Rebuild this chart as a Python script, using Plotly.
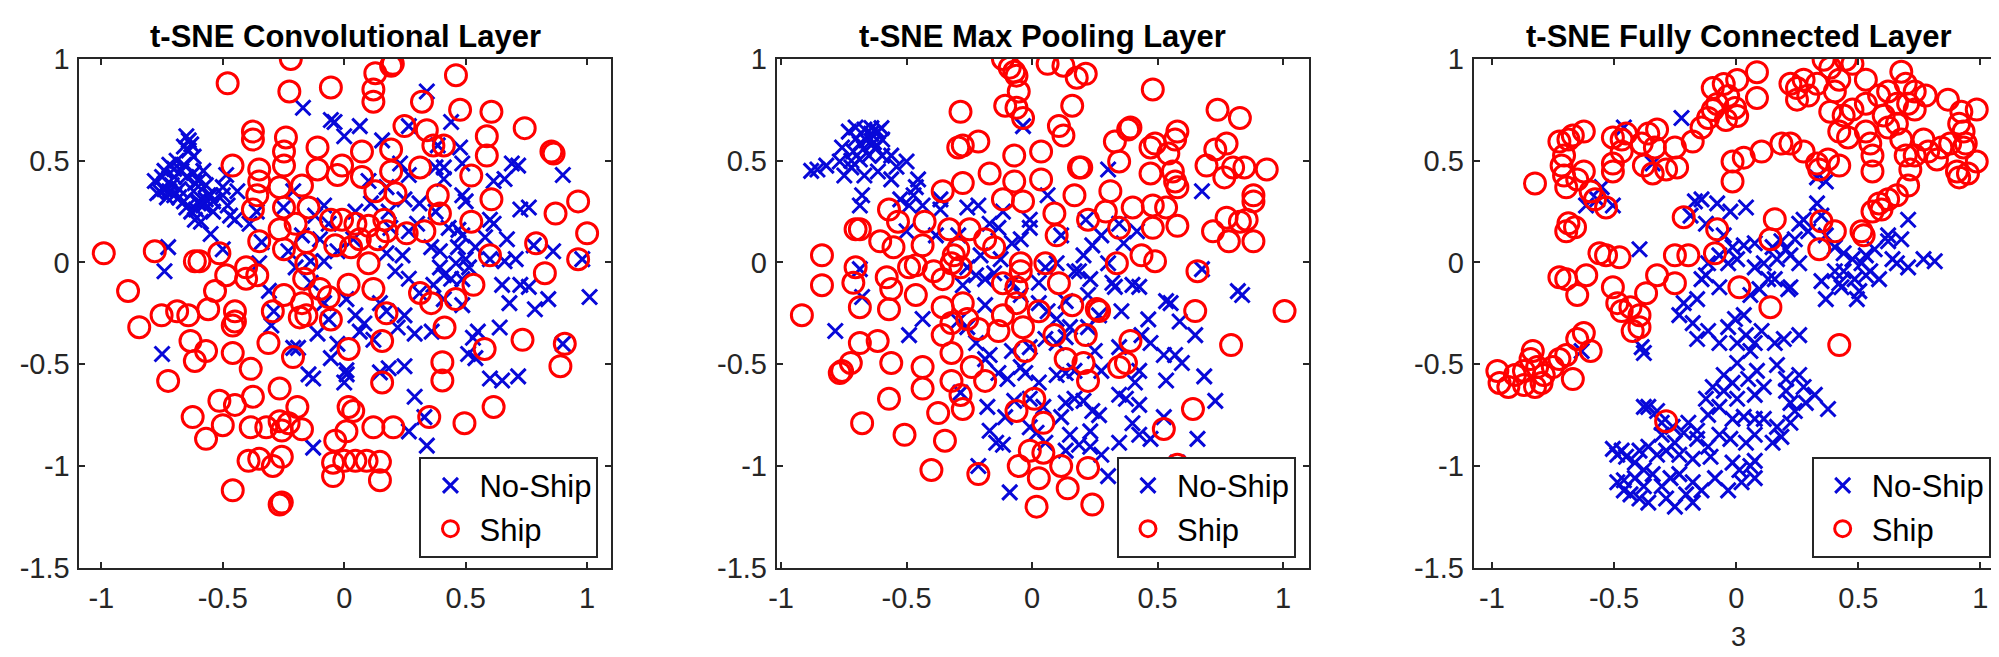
import plotly.graph_objects as go

# t-SNE embeddings, as (x, y) pairs per layer and class
conv_noship = [
    (-0.17, 0.76), (-0.055, 0.70), (-0.04, 0.69), (0.0, 0.62), (0.064, 0.67), (0.156, 0.60),
    (0.34, 0.84), (0.266, 0.67), (0.44, 0.69), (0.477, 0.565), (0.385, 0.575), (0.69, 0.486),
    (0.716, 0.476), (0.90, 0.43), (0.615, 0.40), (0.66, 0.41), (0.266, 0.43), (0.41, 0.41),
    (0.486, 0.33), (0.50, 0.30), (0.725, 0.26), (0.76, 0.27), (0.60, 0.21), (0.615, 0.19),
    (0.43, 0.17), (0.47, 0.16), (0.67, 0.114), (0.58, 0.124), (0.78, 0.084), (0.86, 0.055),
    (0.98, 0.016), (0.60, 0.016), (0.66, 0.006), (0.706, 0.016), (0.50, 0.016), (0.46, -0.004),
    (0.394, -0.024), (0.41, -0.063), (0.486, -0.082), (0.65, -0.11), (0.725, -0.11), (0.76, -0.12),
    (0.84, -0.18), (1.01, -0.17), (0.68, -0.20), (0.785, -0.23), (0.64, -0.32), (0.55, -0.34),
    (0.53, -0.37), (0.51, -0.45), (0.54, -0.47), (0.60, -0.57), (0.65, -0.58), (0.716, -0.56),
    (0.90, -0.40), (0.36, -0.34), (0.29, -0.35), (0.31, -0.15), (0.266, -0.08), (0.21, -0.043),
    (0.24, 0.035), (0.174, 0.045), (0.266, 0.153), (0.30, 0.19), (0.31, 0.29), (0.248, 0.31),
    (0.183, 0.25), (0.19, 0.17), (0.11, 0.29), (0.046, 0.25), (0.037, 0.114), (-0.028, 0.055),
    (-0.083, 0.006), (-0.138, 0.006), (-0.23, 0.055), (-0.20, -0.024), (-0.138, -0.10), (-0.083, -0.20),
    (-0.064, -0.28), (0.009, -0.18), (0.046, -0.26), (0.083, -0.30), (0.064, -0.34), (0.147, -0.20),
    (0.174, -0.24), (0.22, -0.32), (0.248, -0.26), (0.12, -0.38), (-0.11, -0.35), (-0.028, -0.40),
    (-0.055, -0.47), (0.009, -0.53), (0.0, -0.59), (0.01, -0.55), (-0.147, -0.55), (-0.128, -0.57),
    (-0.19, -0.42), (-0.29, -0.24), (-0.30, -0.31), (-0.31, -0.14), (-0.35, -0.004), (-0.34, 0.10),
    (-0.39, 0.19), (-0.36, 0.25), (-0.45, 0.21), (-0.47, 0.23), (-0.486, 0.43), (-0.50, 0.37),
    (-0.44, 0.35), (-0.50, 0.065), (-0.55, 0.14), (-0.725, 0.075), (-0.74, -0.043), (-0.75, -0.45),
    (0.147, -0.54), (0.183, -0.52), (0.248, -0.51), (0.29, -0.66), (0.266, -0.83), (0.34, -0.90),
    (0.33, -0.76), (-0.128, -0.91), (-0.21, -0.42), (-0.58, 0.45), (-0.615, 0.39), (-0.56, 0.33),
    (-0.60, 0.29), (-0.54, 0.25), (-0.615, 0.21), (-0.25, 0.27), (-0.21, 0.35), (-0.12, 0.23),
    (-0.083, 0.28), (-0.064, 0.19), (-0.10, 0.114), (-0.174, 0.133), (0.376, 0.467), (0.41, 0.467),
    (0.486, 0.486), (0.23, 0.486), (0.174, 0.37), (0.10, 0.40), (0.376, 0.25), (0.358, 0.075),
    (0.394, 0.055), (0.468, 0.075), (0.486, 0.133), (0.54, 0.075), (0.514, -0.024), (0.44, -0.08),
    (0.367, -0.11), (0.41, -0.18), (0.486, -0.21),
    (-0.78, 0.40), (-0.76, 0.35), (-0.74, 0.45), (-0.72, 0.48), (-0.70, 0.42), (-0.73, 0.32),
    (-0.70, 0.33), (-0.68, 0.36), (-0.66, 0.48), (-0.65, 0.42), (-0.64, 0.55), (-0.64, 0.60),
    (-0.63, 0.58), (-0.62, 0.52), (-0.68, 0.32), (-0.66, 0.30), (-0.62, 0.35), (-0.60, 0.30),
    (-0.58, 0.28), (-0.61, 0.26), (-0.65, 0.27), (-0.71, 0.38), (-0.75, 0.42), (-0.69, 0.50),
    (-0.67, 0.45), (-0.62, 0.44), (-0.60, 0.40), (-0.57, 0.38), (-0.55, 0.33), (-0.63, 0.25),
    (-0.59, 0.20), (-0.57, 0.31), (-0.54, 0.30), (-0.77, 0.34), (-0.74, 0.36), (-0.50, 0.33),
    (-0.48, 0.28), (-0.65, 0.62), (-0.66, 0.57), (-0.72, 0.35), (-0.70, 0.46),
]
conv_ship = [
    (-0.22, 1.0), (-0.48, 0.88), (-0.226, 0.84), (-0.055, 0.86), (0.12, 0.85), (0.128, 0.93),
    (0.12, 0.79), (0.193, 0.967), (0.20, 0.976), (0.46, 0.92), (0.32, 0.79), (0.477, 0.75),
    (0.606, 0.74), (0.743, 0.66), (0.248, 0.67), (0.34, 0.65), (0.367, 0.575), (0.41, 0.575),
    (0.587, 0.62), (0.587, 0.525), (0.862, 0.535), (0.853, 0.545), (-0.376, 0.643), (-0.376, 0.604),
    (-0.24, 0.614), (-0.248, 0.545), (-0.248, 0.476), (-0.46, 0.476), (-0.35, 0.457), (-0.35, 0.398),
    (-0.358, 0.33), (-0.376, 0.26), (-0.266, 0.37), (-0.174, 0.378), (-0.11, 0.565), (-0.11, 0.457),
    (-0.009, 0.476), (-0.028, 0.43), (0.073, 0.42), (0.193, 0.555), (0.193, 0.447), (0.073, 0.545),
    (0.128, 0.35), (0.211, 0.34), (0.312, 0.467), (0.385, 0.33), (0.394, 0.24), (0.33, 0.153),
    (0.257, 0.143), (0.523, 0.427), (0.606, 0.31), (0.523, 0.20), (0.87, 0.24), (0.963, 0.30),
    (1.0, 0.143), (0.963, 0.016), (0.79, 0.094), (0.826, -0.053), (0.60, 0.035), (0.532, -0.11),
    (0.312, -0.15), (0.358, -0.20), (0.459, -0.18), (0.413, -0.32), (0.734, -0.38), (0.908, -0.40),
    (0.89, -0.51), (0.578, -0.425), (0.404, -0.49), (0.404, -0.58), (0.615, -0.71), (0.495, -0.79),
    (0.35, -0.76), (0.202, -0.81), (0.12, -0.81), (0.147, -0.98), (0.147, -1.07), (0.495, -1.05),
    (0.092, -0.975), (0.046, -0.975), (0.0, -0.975), (-0.046, -0.984), (-0.046, -1.05), (0.009, -0.83),
    (0.018, -0.71), (0.037, -0.73), (-0.037, -0.876), (0.156, -0.59), (0.156, -0.386), (0.174, -0.25),
    (0.12, -0.13), (0.10, -0.004), (0.018, -0.425), (0.018, -0.11), (-0.055, -0.28), (-0.064, -0.17),
    (-0.10, -0.13), (-0.165, -0.08), (-0.156, -0.004), (-0.156, 0.10), (-0.20, 0.19), (-0.266, 0.163),
    (-0.248, 0.27), (-0.147, 0.27), (-0.055, 0.21), (-0.009, 0.21), (-0.037, 0.084), (0.028, 0.075),
    (0.064, 0.114), (0.138, 0.114), (0.174, 0.153), (0.165, 0.21), (0.10, 0.18), (0.046, 0.19),
    (-0.248, 0.065), (-0.35, 0.104), (-0.404, -0.024), (-0.404, -0.08), (-0.358, -0.063), (-0.486, -0.063),
    (-0.514, 0.045), (-0.615, 0.006), (-0.596, 0.006), (-0.78, 0.055), (-0.99, 0.045), (-0.89, -0.14),
    (-0.844, -0.318), (-0.752, -0.26), (-0.688, -0.24), (-0.642, -0.26), (-0.56, -0.23), (-0.532, -0.14),
    (-0.45, -0.24), (-0.45, -0.29), (-0.459, -0.31), (-0.294, -0.24), (-0.248, -0.16), (-0.174, -0.20),
    (-0.156, -0.26), (-0.183, -0.27), (-0.312, -0.396), (-0.459, -0.445), (-0.385, -0.523), (-0.633, -0.386),
    (-0.569, -0.435), (-0.615, -0.484), (-0.725, -0.582), (-0.211, -0.465), (-0.266, -0.62), (-0.376, -0.66),
    (-0.514, -0.68), (-0.45, -0.70), (-0.624, -0.76), (-0.50, -0.80), (-0.569, -0.867), (-0.385, -0.81),
    (-0.321, -0.81), (-0.266, -0.78), (-0.229, -0.79), (-0.174, -0.82), (-0.193, -0.71), (-0.257, -0.826),
    (-0.394, -0.975), (-0.35, -0.965), (-0.294, -1.0), (-0.257, -0.955), (-0.459, -1.12), (-0.266, -1.19),
    (-0.257, -1.18),
]
pool_noship = [
    (-0.88, 0.45), (-0.855, 0.457), (-0.82, 0.476), (-0.766, 0.496), (-0.748, 0.427), (-0.72, 0.467),
    (-0.73, 0.643), (-0.703, 0.663), (-0.686, 0.584), (-0.668, 0.653), (-0.641, 0.633), (-0.614, 0.643),
    (-0.597, 0.604), (-0.623, 0.565), (-0.65, 0.525), (-0.686, 0.506), (-0.597, 0.525), (-0.561, 0.525),
    (-0.50, 0.496), (-0.712, 0.545), (-0.757, 0.565), (-0.668, 0.427), (-0.614, 0.447), (-0.561, 0.408),
    (-0.677, 0.33), (-0.686, 0.28), (-0.454, 0.408), (-0.463, 0.37), (-0.472, 0.33), (-0.525, 0.31),
    (-0.49, 0.28), (-0.436, 0.28), (-0.50, 0.153), (-0.365, 0.31), (-0.365, 0.26), (-0.258, 0.27),
    (-0.214, 0.28), (-0.383, 0.133), (-0.294, 0.133), (-0.169, 0.19), (-0.134, 0.17), (-0.116, 0.25),
    (-0.009, 0.21), (-0.009, 0.17), (-0.036, 0.67), (0.062, 0.33), (0.116, 0.133), (-0.045, 0.114),
    (-0.08, 0.094), (-0.205, 0.035), (-0.125, 0.016), (-0.151, -0.053), (-0.223, -0.063), (-0.187, -0.082),
    (-0.258, -0.024), (-0.08, -0.10), (-0.045, -0.16), (0.027, -0.10), (0.053, -0.024), (0.098, -0.004),
    (0.169, -0.043), (0.187, -0.043), (0.232, -0.082), (0.205, 0.035), (0.24, 0.084), (0.276, 0.133),
    (0.365, 0.094), (0.418, 0.153), (0.347, 0.19), (0.214, 0.21), (0.303, 0.457), (0.677, 0.35),
    (0.303, -0.004), (0.32, -0.10), (0.33, -0.12), (0.40, -0.11), (0.427, -0.12), (0.356, -0.24),
    (0.534, -0.19), (0.552, -0.20), (0.588, -0.29), (0.65, -0.357), (0.463, -0.28), (0.472, -0.396),
    (0.436, -0.357), (0.525, -0.455), (0.57, -0.455), (0.597, -0.494), (0.534, -0.58), (0.686, -0.56),
    (0.73, -0.68), (0.427, -0.533), (0.41, -0.59), (0.347, -0.65), (0.374, -0.67), (0.427, -0.70),
    (0.40, -0.79), (0.347, -0.886), (0.427, -0.847), (0.472, -0.867), (0.525, -0.76), (0.659, -0.867),
    (0.579, -0.984), (0.427, -1.0), (0.303, -1.05), (0.276, -0.945), (0.232, -0.83), (0.267, -0.75),
    (0.24, -0.73), (0.205, -0.68), (0.169, -0.67), (0.134, -0.69), (0.116, -0.76), (0.151, -0.847),
    (0.187, -0.896), (0.232, -0.906), (0.134, -0.925), (0.053, -0.886), (-0.009, -0.81), (0.018, -0.837),
    (-0.107, -0.76), (-0.178, -0.71), (-0.169, -0.827), (-0.143, -0.886), (-0.116, -0.896), (-0.089, -1.13),
    (-0.214, -1.0), (-0.071, -0.68), (-0.009, -0.67), (0.045, -0.71), (0.098, -0.553), (0.134, -0.543),
    (0.027, -0.59), (-0.027, -0.543), (-0.045, -0.514), (-0.098, -0.573), (-0.134, -0.543), (-0.08, -0.435),
    (-0.009, -0.416), (0.053, -0.376), (0.098, -0.396), (0.134, -0.367), (0.151, -0.318), (0.098, -0.278),
    (0.062, -0.24), (0.027, -0.20), (-0.169, -0.455), (-0.187, -0.475), (-0.223, -0.396), (-0.294, -0.288),
    (-0.258, -0.318), (-0.187, -0.21), (-0.276, -0.112), (-0.436, -0.278), (-0.49, -0.357), (-0.784, -0.337),
    (-0.686, -0.033), (-0.677, -0.17), (-0.285, -0.64), (0.677, -0.033), (0.82, -0.141), (0.837, -0.16),
    (0.267, -0.26), (0.223, -0.318), (0.25, -0.435), (0.276, -0.533), (0.169, -0.533), (0.347, -0.416),
    (0.223, -0.16), (0.134, -0.19), (-0.66, 0.60), (-0.63, 0.59), (-0.70, 0.61), (-0.64, 0.66),
    (-0.60, 0.66), (-0.67, 0.56), (-0.72, 0.50), (-0.54, 0.47),
]
pool_ship = [
    (-0.116, 1.0), (-0.089, 0.957), (-0.071, 0.937), (-0.062, 0.918), (-0.053, 0.84), (-0.107, 0.77),
    (-0.062, 0.76), (-0.036, 0.71), (0.062, 0.976), (0.125, 0.967), (0.178, 0.908), (0.214, 0.927),
    (0.16, 0.77), (0.481, 0.85), (0.739, 0.75), (0.828, 0.71), (-0.285, 0.74), (-0.294, 0.565),
    (-0.276, 0.575), (-0.214, 0.594), (-0.071, 0.525), (0.036, 0.545), (0.107, 0.67), (0.125, 0.624),
    (0.187, 0.467), (0.196, 0.467), (0.33, 0.594), (0.347, 0.496), (0.383, 0.653), (0.392, 0.663),
    (0.472, 0.565), (0.49, 0.584), (0.472, 0.437), (0.543, 0.535), (0.57, 0.604), (0.579, 0.643),
    (0.561, 0.447), (0.57, 0.398), (0.579, 0.369), (0.695, 0.476), (0.73, 0.555), (0.775, 0.584),
    (0.766, 0.418), (0.801, 0.467), (0.846, 0.467), (0.935, 0.457), (0.882, 0.33), (0.882, 0.30),
    (0.775, 0.22), (0.784, 0.104), (0.828, 0.20), (0.855, 0.21), (0.882, 0.104), (0.721, 0.153),
    (0.481, 0.28), (0.481, 0.17), (0.534, 0.27), (0.579, 0.18), (0.436, 0.035), (0.49, 0.006),
    (0.338, -0.004), (0.347, 0.17), (0.401, 0.27), (0.294, 0.25), (0.312, 0.35), (0.169, 0.33),
    (0.223, 0.21), (0.089, 0.24), (0.098, 0.133), (0.036, 0.408), (-0.071, 0.398), (-0.036, 0.30),
    (-0.116, 0.31), (-0.169, 0.437), (-0.276, 0.39), (-0.356, 0.35), (-0.57, 0.26), (-0.534, 0.20),
    (-0.428, 0.20), (-0.703, 0.163), (-0.686, 0.163), (-0.605, 0.104), (-0.552, 0.075), (-0.436, 0.084),
    (-0.33, 0.163), (-0.249, 0.163), (-0.187, 0.114), (-0.151, 0.075), (-0.294, 0.065), (-0.312, 0.035),
    (-0.837, 0.035), (-0.837, -0.112), (-0.703, -0.024), (-0.712, -0.10), (-0.686, -0.22), (-0.579, -0.073),
    (-0.561, -0.131), (-0.57, -0.23), (-0.49, -0.024), (-0.463, -0.014), (-0.463, -0.16), (-0.392, -0.043),
    (-0.356, -0.082), (-0.321, -0.004), (-0.285, -0.024), (-0.356, -0.22), (-0.276, -0.20), (-0.258, -0.278),
    (-0.214, -0.327), (-0.321, -0.298), (-0.356, -0.357), (-0.321, -0.445), (-0.436, -0.514), (-0.561, -0.494),
    (-0.686, -0.396), (-0.615, -0.386), (-0.722, -0.494), (-0.757, -0.533), (-0.766, -0.543), (-0.917, -0.259),
    (-0.321, -0.582), (-0.285, -0.651), (-0.276, -0.72), (-0.374, -0.74), (-0.436, -0.62), (-0.57, -0.67),
    (-0.677, -0.79), (-0.508, -0.847), (-0.347, -0.876), (-0.401, -1.02), (-0.214, -1.04), (-0.24, -0.514),
    (-0.187, -0.582), (-0.116, -0.102), (-0.062, -0.122), (-0.045, -0.004), (-0.045, -0.043), (-0.062, -0.20),
    (-0.116, -0.259), (-0.134, -0.337), (-0.036, -0.318), (-0.027, -0.435), (0.027, -0.24), (0.053, -0.004),
    (0.107, -0.102), (0.089, -0.357), (0.134, -0.475), (0.16, -0.21), (0.214, -0.357), (0.258, -0.229),
    (0.267, -0.239), (0.205, -0.494), (0.223, -0.582), (0.347, -0.514), (0.374, -0.494), (0.392, -0.386),
    (0.65, -0.239), (0.659, -0.043), (0.793, -0.406), (1.006, -0.239), (0.641, -0.72), (0.525, -0.818),
    (0.579, -0.994), (0.223, -1.01), (0.24, -1.19), (0.142, -1.11), (0.116, -1.0), (0.027, -1.06),
    (0.018, -1.20), (-0.053, -1.0), (-0.009, -0.925), (0.045, -0.935), (0.045, -0.788), (0.009, -0.67),
    (-0.062, -0.73),
]
fc_noship = [
    (-0.224, 0.71), (-0.46, 0.663), (-0.569, 0.31), (-0.615, 0.28), (-0.551, 0.37), (-0.505, 0.28),
    (-0.396, 0.065), (-0.342, 0.486), (-0.633, -0.435), (-0.387, -0.416), (-0.378, -0.445), (0.331, 0.418),
    (0.367, 0.398), (-0.169, 0.30), (-0.142, 0.31), (-0.078, 0.29), (-0.024, 0.25), (0.04, 0.27),
    (-0.187, 0.23), (-0.124, 0.19), (-0.051, 0.133), (-0.015, 0.075), (0.031, 0.084), (0.076, 0.094),
    (0.149, 0.075), (0.185, 0.104), (0.204, 0.065), (0.24, 0.114), (0.258, 0.19), (0.276, 0.21),
    (0.295, 0.153), (0.222, 0.035), (0.167, 0.016), (0.113, -0.004), (0.076, -0.024), (0.131, -0.082),
    (0.158, -0.082), (0.095, -0.131), (0.058, -0.16), (0.222, -0.122), (0.004, 0.016), (-0.033, -0.004),
    (-0.069, 0.035), (-0.115, -0.004), (-0.124, -0.063), (-0.142, -0.082), (-0.069, -0.122), (-0.16, -0.18),
    (-0.215, -0.20), (-0.233, -0.259), (-0.178, -0.298), (-0.16, -0.376), (-0.115, -0.337), (-0.069, -0.396),
    (-0.033, -0.318), (-0.005, -0.278), (0.031, -0.259), (0.04, -0.357), (0.004, -0.396), (0.058, -0.435),
    (0.076, -0.396), (0.104, -0.337), (0.158, -0.396), (0.195, -0.376), (0.258, -0.357), (0.004, -0.494),
    (-0.051, -0.553), (-0.015, -0.592), (0.049, -0.573), (0.085, -0.533), (0.167, -0.504), (0.204, -0.573),
    (0.258, -0.553), (0.276, -0.612), (0.322, -0.651), (0.376, -0.72), (0.285, -0.69), (0.222, -0.69),
    (0.204, -0.631), (0.113, -0.612), (0.076, -0.651), (0.004, -0.67), (-0.051, -0.631), (-0.096, -0.612),
    (-0.124, -0.67), (-0.115, -0.749), (-0.069, -0.71), (-0.015, -0.769), (0.031, -0.759), (0.076, -0.769),
    (0.113, -0.769), (0.167, -0.808), (0.222, -0.788), (0.24, -0.73), (0.185, -0.857), (0.149, -0.886),
    (0.076, -0.847), (0.04, -0.886), (-0.024, -0.867), (-0.069, -0.847), (-0.115, -0.906), (-0.16, -0.867),
    (-0.215, -0.837), (-0.26, -0.808), (-0.305, -0.788), (-0.36, -0.71), (-0.378, -0.71), (-0.324, -0.73),
    (-0.178, -0.965), (-0.105, -0.955), (-0.015, -0.984), (0.013, -1.02), (0.058, -1.0), (0.076, -0.975),
    (0.022, -1.08), (-0.033, -1.12), (-0.087, -1.06), (-0.142, -1.12), (-0.178, -1.08), (-0.205, -1.14),
    (-0.178, -1.18), (-0.251, -1.20), (-0.287, -1.16), (-0.305, -1.10), (-0.269, -1.06), (-0.233, -1.04),
    (-0.342, -1.04), (-0.378, -1.10), (-0.36, -1.18), (-0.396, -1.16), (-0.433, -1.14), (-0.46, -1.12),
    (-0.487, -1.08), (-0.46, -1.07), (-0.415, -1.06), (-0.378, -1.02), (-0.415, -0.984), (-0.451, -0.955),
    (-0.487, -0.945), (-0.505, -0.916), (-0.469, -0.925), (-0.396, -0.925), (-0.36, -0.906), (-0.324, -0.945),
    (-0.287, -0.925), (-0.233, -0.945), (-0.251, -0.886), (-0.305, -0.847), (-0.196, -0.788), (-0.16, -0.827),
    (0.076, -1.06), (0.331, 0.29), (0.349, 0.23), (0.367, 0.133), (0.404, 0.075), (0.44, 0.045),
    (0.476, 0.016), (0.513, -0.004), (0.531, 0.035), (0.567, 0.065), (0.622, 0.104), (0.676, 0.114),
    (0.704, 0.21), (0.622, 0.133), (0.549, -0.043), (0.585, -0.082), (0.64, 0.016), (0.704, -0.024),
    (0.658, -0.004), (0.767, 0.016), (0.813, 0.006), (0.44, -0.043), (0.422, -0.102), (0.367, -0.18),
    (0.431, -0.122), (0.494, -0.18), (0.504, -0.141), (0.349, -0.092), (0.485, -0.082), (0.531, -0.063),
    (0.404, -0.043), (0.258, -0.004), (0.213, -0.131),
]
fc_ship = [
    (-0.824, 0.388), (-0.724, 0.594), (-0.687, 0.604), (-0.669, 0.624), (-0.624, 0.643), (-0.705, 0.525),
    (-0.715, 0.476), (-0.705, 0.427), (-0.696, 0.369), (-0.651, 0.408), (-0.624, 0.447), (-0.596, 0.349),
    (-0.578, 0.31), (-0.533, 0.27), (-0.505, 0.614), (-0.469, 0.604), (-0.451, 0.633), (-0.469, 0.545),
    (-0.505, 0.486), (-0.505, 0.447), (-0.387, 0.584), (-0.36, 0.633), (-0.324, 0.653), (-0.333, 0.565),
    (-0.251, 0.565), (-0.378, 0.476), (-0.342, 0.437), (-0.287, 0.457), (-0.242, 0.467), (-0.178, 0.594),
    (-0.142, 0.663), (-0.115, 0.71), (-0.096, 0.749), (-0.078, 0.779), (-0.096, 0.857), (-0.051, 0.877),
    (0.004, 0.896), (-0.033, 0.818), (-0.005, 0.759), (-0.042, 0.70), (0.004, 0.72), (0.085, 0.808),
    (0.085, 0.935), (-0.015, 0.496), (-0.015, 0.398), (0.031, 0.515), (0.104, 0.545), (0.185, 0.584),
    (0.222, 0.584), (0.276, 0.545), (0.331, 0.486), (0.34, 0.457), (0.376, 0.506), (0.422, 0.476),
    (0.222, 0.878), (0.249, 0.857), (0.276, 0.898), (0.249, 0.80), (0.295, 0.82), (0.331, 0.878),
    (0.358, 0.996), (0.385, 0.957), (0.422, 0.898), (0.449, 0.996), (0.476, 0.976), (0.531, 0.898),
    (0.404, 0.84), (0.385, 0.741), (0.44, 0.722), (0.476, 0.751), (0.531, 0.78), (0.422, 0.643),
    (0.458, 0.614), (0.531, 0.643), (0.585, 0.82), (0.622, 0.84), (0.658, 0.78), (0.676, 0.937),
    (0.694, 0.878), (0.731, 0.84), (0.776, 0.82), (0.704, 0.78), (0.731, 0.751), (0.604, 0.722),
    (0.622, 0.663), (0.658, 0.682), (0.676, 0.604), (0.549, 0.584), (0.558, 0.525), (0.558, 0.447),
    (0.694, 0.525), (0.713, 0.457), (0.731, 0.525), (0.767, 0.604), (0.786, 0.545), (0.822, 0.506),
    (0.84, 0.565), (0.867, 0.80), (0.876, 0.584), (0.913, 0.682), (0.922, 0.741), (0.931, 0.643),
    (0.94, 0.584), (0.931, 0.565), (0.904, 0.447), (0.913, 0.418), (0.949, 0.437), (0.985, 0.751),
    (0.985, 0.496), (0.558, 0.25), (0.585, 0.29), (0.622, 0.31), (0.658, 0.33), (0.704, 0.378),
    (0.595, 0.26), (0.349, 0.202), (0.404, 0.153), (0.513, 0.153), (0.522, 0.133), (0.158, 0.212),
    (0.14, 0.114), (0.34, 0.065), (-0.215, 0.222), (-0.078, 0.163), (-0.087, 0.045), (-0.251, 0.035),
    (-0.196, 0.035), (0.013, -0.122), (0.14, -0.22), (0.422, -0.406), (-0.287, -0.78), (-0.724, -0.073),
    (-0.696, -0.082), (-0.614, -0.063), (-0.651, -0.16), (-0.56, 0.045), (-0.533, 0.035), (-0.478, 0.025),
    (-0.505, -0.122), (-0.487, -0.20), (-0.469, -0.239), (-0.433, -0.22), (-0.396, -0.259), (-0.424, -0.337),
    (-0.396, -0.318), (-0.369, -0.151), (-0.324, -0.063), (-0.251, -0.102), (-0.651, -0.376), (-0.624, -0.347),
    (-0.596, -0.435), (-0.696, 0.153), (-0.687, 0.192), (-0.66, 0.173), (-0.978, -0.533), (-0.969, -0.592),
    (-0.933, -0.612), (-0.906, -0.553), (-0.869, -0.533), (-0.842, -0.475), (-0.833, -0.435), (-0.815, -0.514),
    (-0.788, -0.553), (-0.797, -0.592), (-0.824, -0.612), (-0.869, -0.602), (-0.751, -0.514), (-0.724, -0.475),
    (-0.696, -0.455), (-0.669, -0.573),
]

titles = ["t-SNE Convolutional Layer", "t-SNE Max Pooling Layer", "t-SNE Fully Connected Layer"]
panels = [(conv_noship, conv_ship), (pool_noship, pool_ship), (fc_noship, fc_ship)]
x_ranges = [[-1.09, 1.10], [-1.017, 1.103], [-1.075, 1.095]]
x_domains = [[0.0314, 0.2987], [0.3818, 0.6492], [0.7320, 0.9983]]
y_domain = [0.1301, 0.9441]
xticks = [-1, -0.5, 0, 0.5, 1]
yticks = [-1.5, -1, -0.5, 0, 0.5, 1]

BLUE = "#0808d8"
RED = "#ff0000"
AXC = "#262626"
FONT = "Liberation Sans, Arial, sans-serif"

fig = go.Figure()

for i, (noship, ship) in enumerate(panels):
    n = "" if i == 0 else str(i + 1)
    leg = "legend" + n
    fig.add_trace(go.Scatter(
        x=[p[0] for p in noship], y=[p[1] for p in noship], mode="markers", name="No-Ship",
        xaxis="x" + n, yaxis="y" + n, legend=leg,
        marker=dict(symbol="x-thin-open", size=15, line=dict(color=BLUE, width=3), color=BLUE),
    ))
    fig.add_trace(go.Scatter(
        x=[p[0] for p in ship], y=[p[1] for p in ship], mode="markers", name="Ship",
        xaxis="x" + n, yaxis="y" + n, legend=leg,
        marker=dict(symbol="circle-open", size=21, line=dict(color=RED, width=3), color=RED),
    ))

    axis_common = dict(showline=True, linecolor=AXC, linewidth=2, mirror="allticks",
                       ticks="inside", ticklen=6, tickwidth=1.5, tickcolor=AXC,
                       showgrid=False, zeroline=False,
                       tickfont=dict(family=FONT, size=29, color=AXC))
    fig.update_layout({
        "xaxis" + n: dict(axis_common, domain=x_domains[i], range=x_ranges[i], anchor="y" + n,
                          tickvals=xticks, ticktext=[f"{v:g}" for v in xticks],
                          ticklabelstandoff=4),
        "yaxis" + n: dict(axis_common, domain=y_domain, range=[-1.5, 1], anchor="x" + n,
                          tickvals=yticks, ticktext=[f"{v:g}" for v in yticks],
                          ticklabelstandoff=2),
        leg: dict(x=x_domains[i][1] - 13 / 1999, y=(657 - 561) / 657,
                  xanchor="right", yanchor="bottom", bgcolor="white",
                  bordercolor=AXC, borderwidth=2, itemsizing="trace", itemwidth=48,
                  font=dict(family=FONT, size=31, color="black"), tracegroupgap=0),
    })
    fig.add_annotation(text="<b>%s</b>" % titles[i], xref="paper", yref="paper",
                       x=sum(x_domains[i]) / 2, y=1 - 13 / 657, xanchor="center", yanchor="middle",
                       showarrow=False, font=dict(family=FONT, size=31, color="black"))

# stray panel label under the third plot
fig.add_annotation(text="3", xref="paper", yref="paper", x=sum(x_domains[2]) / 2, y=0,
                   xanchor="center", yanchor="bottom", yshift=-4, borderpad=0,
                   showarrow=False, font=dict(family=FONT, size=27, color=AXC))

fig.update_layout(width=1999, height=657, margin=dict(l=0, r=0, t=0, b=0),
                  paper_bgcolor="white", plot_bgcolor="white", showlegend=True)

fig.write_html("out.html")
